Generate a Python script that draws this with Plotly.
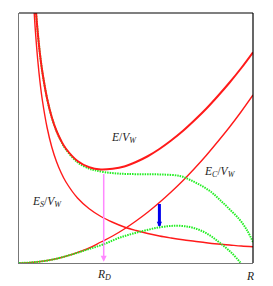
import plotly.graph_objects as go

# Surface energy E_S/V_W
es_r = [0.65, 0.7, 0.8, 0.9, 1.0, 1.2, 1.4, 1.6, 1.8, 2.0, 2.5, 3.0, 3.5, 4.0, 4.5, 5.0,
        5.5, 6.0, 6.5, 7.0, 7.5, 8.0, 8.5, 9.0, 9.5, 10.0]
es_v = [10.0, 9.29, 8.13, 7.22, 6.5, 5.42, 4.64, 4.06, 3.61, 3.25, 2.6, 2.17, 1.86, 1.63, 1.44, 1.3,
        1.18, 1.08, 1.0, 0.93, 0.87, 0.81, 0.76, 0.72, 0.68, 0.65]

# Coulomb energy E_C/V_W
ec_r = [0.0, 0.5, 1.0, 1.5, 2.0, 2.5, 3.0, 3.5, 4.0, 4.5, 5.0, 5.5, 6.0, 6.5, 7.0, 7.5, 8.0,
        8.5, 9.0, 9.5, 10.0]
ec_v = [0.0, 0.02, 0.07, 0.15, 0.27, 0.42, 0.6, 0.84, 1.08, 1.36, 1.68, 2.03, 2.42, 2.84, 3.29,
        3.78, 4.3, 4.86, 5.44, 6.06, 6.72]

# Total energy E/V_W
e_r = [0.73, 0.8, 0.9, 1.0, 1.2, 1.4, 1.6, 1.8, 2.0, 2.5, 3.0, 3.5, 4.0, 4.5, 5.0, 5.5, 6.0,
       6.5, 7.0, 7.5, 8.0, 8.5, 9.0, 9.5, 10.0]
e_v = [10.0, 9.23, 8.33, 7.63, 6.58, 5.83, 5.29, 4.89, 4.58, 4.08, 3.83, 3.74, 3.77, 3.86, 4.04,
       4.27, 4.56, 4.9, 5.28, 5.71, 6.17, 6.68, 7.22, 7.8, 8.43]

# Deformed total energy (green, upper)
gu_r = [0.73, 0.8, 0.9, 1.0, 1.2, 1.4, 1.6, 1.8, 2.0, 2.5, 3.0, 3.25, 3.68, 4.2, 4.66, 5.38,
        6.11, 6.88, 7.3, 7.74, 8.2, 8.59, 9.0, 9.44, 9.75, 10.0]
gu_v = [10.0, 9.23, 8.33, 7.63, 6.58, 5.83, 5.28, 4.87, 4.55, 4.03, 3.77, 3.71, 3.63, 3.58, 3.56,
        3.55, 3.54, 3.48, 3.33, 3.12, 2.85, 2.52, 2.15, 1.72, 1.3, 0.84]

# Deformed Coulomb energy (green, lower)
gl_r = [0.0, 0.5, 1.0, 1.5, 2.0, 2.5, 3.0, 3.59, 4.32, 5.17, 6.03, 6.7, 7.3, 7.74, 8.2, 8.59,
        9.0, 9.44, 9.7]
gl_v = [0.0, 0.02, 0.07, 0.15, 0.27, 0.41, 0.56, 0.74, 1.02, 1.25, 1.43, 1.49, 1.44, 1.31, 1.08,
        0.8, 0.48, 0.04, -0.3]

# Markers
rd = 3.62           # R_D position
rd_top = 3.62       # energy at R_D (green curve)
blue_r = 6.0
blue_top = 2.42
blue_bot = 1.44
x_max = 10.0

RED = "#ff1a1a"
GREEN = "#22ee22"
SERIF = "Liberation Serif"
DOT = "1.5px,1px"

fig = go.Figure()
fig.add_trace(go.Scatter(x=es_r, y=es_v, mode="lines", line=dict(color=RED, width=1.4, shape="spline")))
fig.add_trace(go.Scatter(x=ec_r, y=ec_v, mode="lines", line=dict(color=RED, width=1.4, shape="spline")))
fig.add_trace(go.Scatter(x=gu_r, y=gu_v, mode="lines", line=dict(color=GREEN, width=2, dash=DOT, shape="spline")))
fig.add_trace(go.Scatter(x=gl_r, y=gl_v, mode="lines", line=dict(color=GREEN, width=2, dash=DOT, shape="spline")))
fig.add_trace(go.Scatter(x=e_r, y=e_v, mode="lines", line=dict(color=RED, width=2, shape="spline")))

# arrows
fig.add_annotation(x=rd, y=0.05, ax=rd, ay=rd_top, xref="x", yref="y", axref="x", ayref="y",
                   showarrow=True, arrowhead=2, arrowsize=0.8, arrowwidth=1.5, arrowcolor="#ff88ff", text="")
fig.add_annotation(x=blue_r, y=blue_bot, ax=blue_r, ay=blue_top, xref="x", yref="y", axref="x", ayref="y",
                   showarrow=True, arrowhead=2, arrowsize=0.35, arrowwidth=3, arrowcolor="#0000ee", text="")

labels = [
    (4.49, 5.0, "<i>E</i>/<i>V</i><sub><i>W</i></sub>"),
    (8.59, 3.64, "<i>E</i><sub><i>C</i></sub>/<i>V</i><sub><i>W</i></sub>"),
    (1.2, 2.44, "<i>E</i><sub><i>S</i></sub>/<i>V</i><sub><i>W</i></sub>"),
]
for x, y, t in labels:
    fig.add_annotation(x=x, y=y, text=t, showarrow=False, font=dict(family=SERIF, size=11.5, color="#222"))

# axis labels below the plot
fig.add_annotation(x=rd, xref="x", y=-0.048, yref="paper", text="<i>R</i><sub><i>D</i></sub>", showarrow=False,
                   font=dict(family=SERIF, size=11.5, color="#222"), yanchor="middle")
fig.add_annotation(x=x_max / 10 * 1.013, xref="paper", y=-0.05, yref="paper", text="<i>R</i>", showarrow=False,
                   font=dict(family=SERIF, size=11.5, color="#222"), yanchor="middle")

# frame
fig.add_shape(type="line", xref="paper", yref="paper", x0=0, x1=1, y0=1, y1=1, line=dict(color="black", width=1.2))
fig.add_shape(type="line", xref="paper", yref="paper", x0=1, x1=1, y0=0, y1=1, line=dict(color="black", width=1.2))

fig.update_xaxes(range=[0, x_max], showgrid=False, zeroline=False, showticklabels=False, ticks="",
                 showline=True, linecolor="#777", linewidth=1.2)
fig.update_yaxes(range=[0, 10], showgrid=False, zeroline=False, showticklabels=False, ticks="",
                 showline=True, linecolor="#777", linewidth=1.2)

# page body has an 8px margin; compensate so the plot area lands where the reference has it
fig.update_layout(width=265, height=278, margin=dict(l=11, r=20, t=5, b=23),
                  plot_bgcolor="white", paper_bgcolor="white", showlegend=False)

fig.write_html("out.html")
